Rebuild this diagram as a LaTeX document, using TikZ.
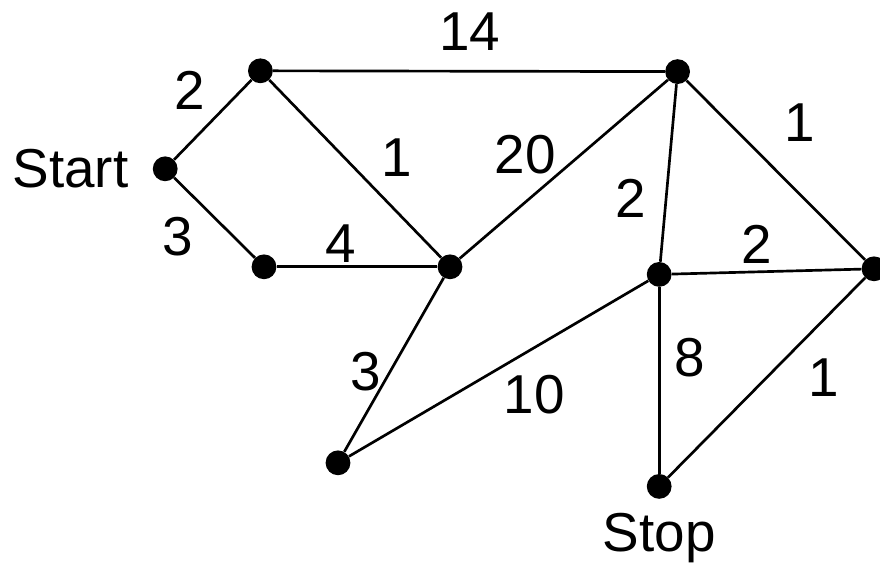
\documentclass[tikz,border=0pt]{standalone}
\usepackage{fontspec}
\setmainfont{Liberation Sans}
\usepackage{tikz}
\usetikzlibrary{positioning}
\tikzset{
    vertex/.style = {circle, fill=black, inner sep=0pt, minimum size=6.2mm},
    weight/.style = {inner sep=0pt, font=\fontsize{39}{44}\selectfont},
    edge/.style   = {line width=1.9pt},
}

\begin{document}
\begin{tikzpicture}
\useasboundingbox (0,0) rectangle (22,14.1);
\node (start) [vertex] at (4.13,9.88) {};
\node (a) [vertex] at (6.51,12.33) {};
\node (b) [vertex] at (6.60,7.43) {};
\node (c) [vertex] at (11.25,7.43) {};
\node (d) [vertex] at (16.94,12.31) {};
\node (e) [vertex] at (16.48,7.24) {};
\node (f) [vertex] at (21.85,7.38) {};
\node (g) [vertex] at (8.45,2.53) {};
\node (stop) [vertex] at (16.48,1.94) {};

\node (startlbl) [weight, left=6mm of start] {Start};
\node (stoplbl) [weight, below=3.5mm of stop] {Stop};

\draw[edge] (start) -- (a);
\draw[edge] (start) -- (b);
\draw[edge] (a) -- (d);
\draw[edge] (a) -- (c);
\draw[edge] (b) -- (c);
\draw[edge] (c) -- (d);
\draw[edge] (d) -- (e);
\draw[edge] (d) -- (f);
\draw[edge] (e) -- (f);
\draw[edge] (c) -- (g);
\draw[edge] (g) -- (e);
\draw[edge] (e) -- (stop);
\draw[edge] (f) -- (stop);

% weights
\node (wsa) [weight] at (4.75,11.85) {2};
\node (wsb) [weight] at (4.45,8.18) {3};
\node (wad) [weight] at (11.75,13.3) {14};
\node (wac) [weight] at (9.93,10.15) {1};
\node (wbc) [weight] at (8.53,8.0) {4};
\node (wcd) [weight] at (13.13,10.23) {20};
\node (wde) [weight] at (15.78,9.13) {2};
\node (wdf) [weight] at (20.0,11.03) {1};
\node (wef) [weight] at (18.93,8.0) {2};
\node (wcg) [weight] at (9.15,4.8) {3};
\node (wge) [weight] at (13.35,4.23) {10};
\node (wes) [weight] at (17.25,5.15) {8};
\node (wfs) [weight] at (20.6,4.65) {1};
\end{tikzpicture}
\end{document}
